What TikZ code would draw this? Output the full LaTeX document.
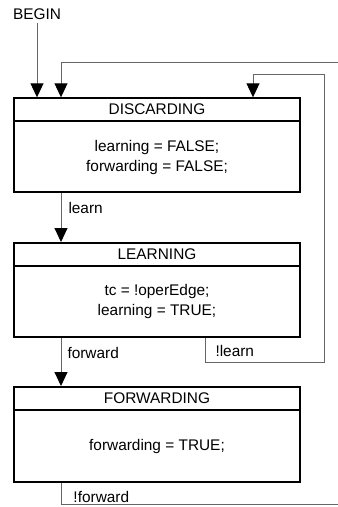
\documentclass[tikz,border=0pt]{standalone}
\usepackage{fontspec}
\setmainfont{Liberation Sans}
\usepackage{tikz}
\usetikzlibrary{arrows.meta, positioning, calc}

\tikzset{
  statebox/.style={draw, line width=2pt, minimum width=286pt, inner sep=0pt},
  titlebar/.style={minimum width=286pt, minimum height=23.5pt, inner sep=0pt},
  bodytext/.style={align=center, inner sep=0pt},
  flow/.style={draw=black!60, line width=1pt, -{Triangle[length=14pt, width=13pt, black]}},
  wire/.style={draw=black!60, line width=1pt},
  lbl/.style={inner sep=0pt}
}

\begin{document}
\begin{tikzpicture}[x=1pt, y=-1pt, font=\fontsize{15.4pt}{20pt}\selectfont]
\useasboundingbox (0,0) rectangle (338,507);

% States
\node[statebox, minimum height=94pt] (disc) at (157,145.3) {};
\node[titlebar, anchor=north] (disct) at (disc.north) {DISCARDING};
\draw[line width=2pt] (disc.west |- disct.south) -- (disc.east |- disct.south);
\node[bodytext] (discb) at ($(disct.south)!0.5!(disc.south)$) {learning = FALSE;\\forwarding = FALSE;};

\node[statebox, minimum height=94pt] (lrn) at (157,290) {};
\node[titlebar, anchor=north] (lrnt) at (lrn.north) {LEARNING};
\draw[line width=2pt] (lrn.west |- lrnt.south) -- (lrn.east |- lrnt.south);
\node[bodytext] (lrnb) at ($(lrnt.south)!0.5!(lrn.south)$) {tc = !operEdge;\\learning = TRUE;};

\node[statebox, minimum height=95pt] (fwd) at (157,434.5) {};
\node[titlebar, anchor=north] (fwdt) at (fwd.north) {FORWARDING};
\draw[line width=2pt] (fwd.west |- fwdt.south) -- (fwd.east |- fwdt.south);
\node[bodytext] (fwdb) at ($(fwdt.south)!0.5!(fwd.south)$) {forwarding = TRUE;};

% Entry
\node (begin) at (37,14) {BEGIN};
\draw[flow] (begin.south) -- (begin.south |- disc.north);

% Transitions
\coordinate (lx) at (61,0);
\draw[flow] (lx |- disc.south) -- node[lbl, pos=0.3, right=7pt] (learn) {learn} (lx |- lrn.north);
\draw[flow] (lx |- lrn.south) -- node[lbl, pos=0.31, right=6pt] (forward) {forward} (lx |- fwd.north);

% !learn back to DISCARDING
\coordinate (nl) at (205,0);
\coordinate (nlc) at (205,362);
\coordinate (nlr) at (324,74);
\draw[wire] (nl |- lrn.south) -- node[lbl, pos=0.55, right=10pt] (notlearn) {!learn} (nlc) -| (nlr) -- (253,74) coordinate (nlt);
\draw[flow] (nlt) -- (nlt |- disc.north);

% !forward back to DISCARDING
\coordinate (nf) at (61,504);
\draw[wire] (lx |- fwd.south) -- (nf) -- node[lbl, pos=0, anchor=south west, xshift=12pt, yshift=1pt] (notfwd) {!forward} (338,504);
\coordinate (top) at (338,62);
\draw[flow] (top) -| (lx |- disc.north);
\end{tikzpicture}
\end{document}
